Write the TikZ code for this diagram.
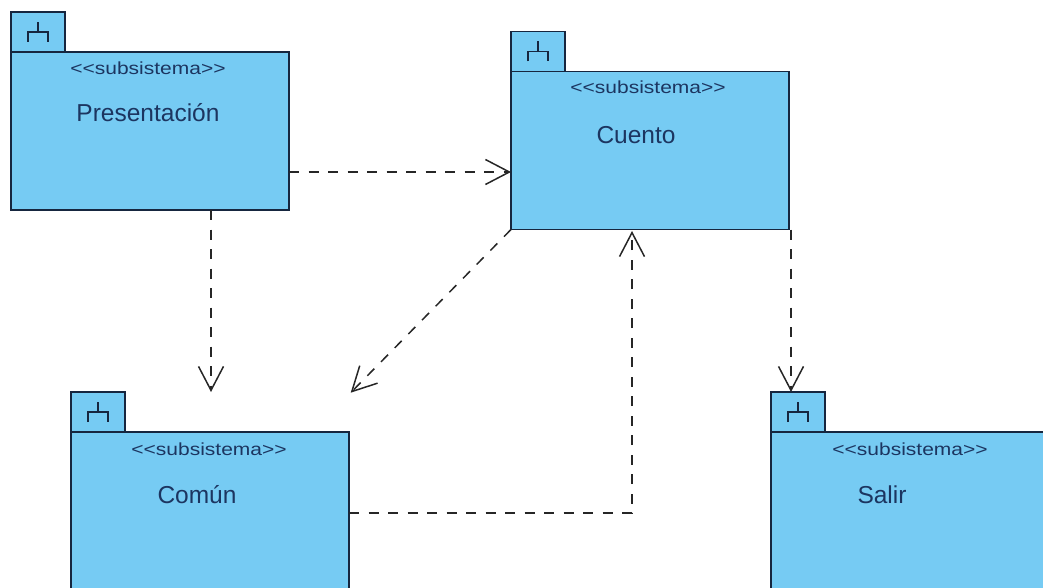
\documentclass[tikz,border=0pt]{standalone}
\usepackage{fontspec}
\setmainfont{Liberation Sans}
\usetikzlibrary{positioning}
\usetikzlibrary{arrows.meta}
\definecolor{pkgfill}{HTML}{76CBF3}
\definecolor{pkgline}{HTML}{16263F}
\definecolor{pkgtext}{HTML}{1C3560}
\tikzstyle{every picture}=[>={Straight Barb[length=24pt,width=25pt]}]
\tikzstyle{package}=[draw=pkgline, fill=pkgfill, line width=1.5pt, rectangle, outer sep=0pt, inner sep=0pt, minimum width=278pt, minimum height=158pt]
\tikzstyle{tab}=[package, anchor=south west, minimum width=54pt, minimum height=40pt]
\tikzstyle{fork}=[draw=pkgline, line width=1.1pt]
\tikzstyle{stereotype}=[text=pkgtext, font=\fontsize{17.5}{20}\selectfont, xscale=1.2]
\tikzstyle{title}=[text=pkgtext, font=\fontsize{24.5}{28}\selectfont]
\tikzstyle{dep}=[->, draw=black!85, line width=1.5pt, dash pattern=on 10pt off 9.5pt]

\begin{document}
\begin{tikzpicture}[x=1pt, y=-1pt]
\clip (0,0) rectangle (1043,588);

\node[package] (Presentacion) at (150,131) {};
\node[package, right=222pt of Presentacion, yshift=-19.5pt] (Cuento) {};
\node[package, below=222pt of Presentacion, xshift=60pt] (Comun) {};
\node[package, right=422pt of Comun] (Salir) {};

\node[tab] (PresentacionTab) at (Presentacion.north west) {};
\node[tab] (CuentoTab) at (Cuento.north west) {};
\node[tab] (ComunTab) at (Comun.north west) {};
\node[tab] (SalirTab) at (Salir.north west) {};

\draw[fork] ([xshift=-10pt, yshift=-10pt] PresentacionTab.center) |- ([xshift=10pt, yshift=0pt] PresentacionTab.center) -- ([xshift=10pt, yshift=-10pt] PresentacionTab.center);
\draw[fork] (PresentacionTab.center) -- ([yshift=10pt] PresentacionTab.center);
\draw[fork] ([xshift=-10pt, yshift=-10pt] CuentoTab.center) |- ([xshift=10pt, yshift=0pt] CuentoTab.center) -- ([xshift=10pt, yshift=-10pt] CuentoTab.center);
\draw[fork] (CuentoTab.center) -- ([yshift=10pt] CuentoTab.center);
\draw[fork] ([xshift=-10pt, yshift=-10pt] ComunTab.center) |- ([xshift=10pt, yshift=0pt] ComunTab.center) -- ([xshift=10pt, yshift=-10pt] ComunTab.center);
\draw[fork] (ComunTab.center) -- ([yshift=10pt] ComunTab.center);
\draw[fork] ([xshift=-10pt, yshift=-10pt] SalirTab.center) |- ([xshift=10pt, yshift=0pt] SalirTab.center) -- ([xshift=10pt, yshift=-10pt] SalirTab.center);
\draw[fork] (SalirTab.center) -- ([yshift=10pt] SalirTab.center);

\node[stereotype] (PresentacionType) at ([xshift=-2pt, yshift=-16pt] Presentacion.north) {<{}<subsistema>{}>};
\node[stereotype] (CuentoType) at ([xshift=-2pt, yshift=-16pt] Cuento.north) {<{}<subsistema>{}>};
\node[stereotype] (ComunType) at ([xshift=-1pt, yshift=-17pt] Comun.north) {<{}<subsistema>{}>};
\node[stereotype] (SalirType) at ([xshift=0pt, yshift=-17pt] Salir.north) {<{}<subsistema>{}>};

\node[title] (PresentacionName) at ([xshift=-2pt, yshift=-61pt] Presentacion.north) {Presentación};
\node[title] (CuentoName) at ([xshift=-14pt, yshift=-64pt] Cuento.north) {Cuento};
\node[title] (ComunName) at ([xshift=-13pt, yshift=-63pt] Comun.north) {Común};
\node[title] (SalirName) at ([xshift=-28pt, yshift=-63pt] Salir.north) {Salir};

\coordinate[below=182pt of Presentacion.south] (ComunIn);
\coordinate (CuentoOut) at (350.7,392.7);
\coordinate (SalirIn) at (791,392);
\coordinate (CuentoIn) at (632,231);
\coordinate (ComunOut) at (349,513);

\draw[dep] ([yshift=-41pt] Presentacion.east) -- ([yshift=-21.5pt] Cuento.west);
\draw[dep] ([xshift=61pt] Presentacion.south) -- ([xshift=61pt] ComunIn);
\draw[dep] (Cuento.south west) -- (CuentoOut);
\draw[dep] (ComunOut) -| (CuentoIn);
\draw[dep] (SalirIn |- Cuento.south) -- (SalirIn);
\end{tikzpicture}
\end{document}
